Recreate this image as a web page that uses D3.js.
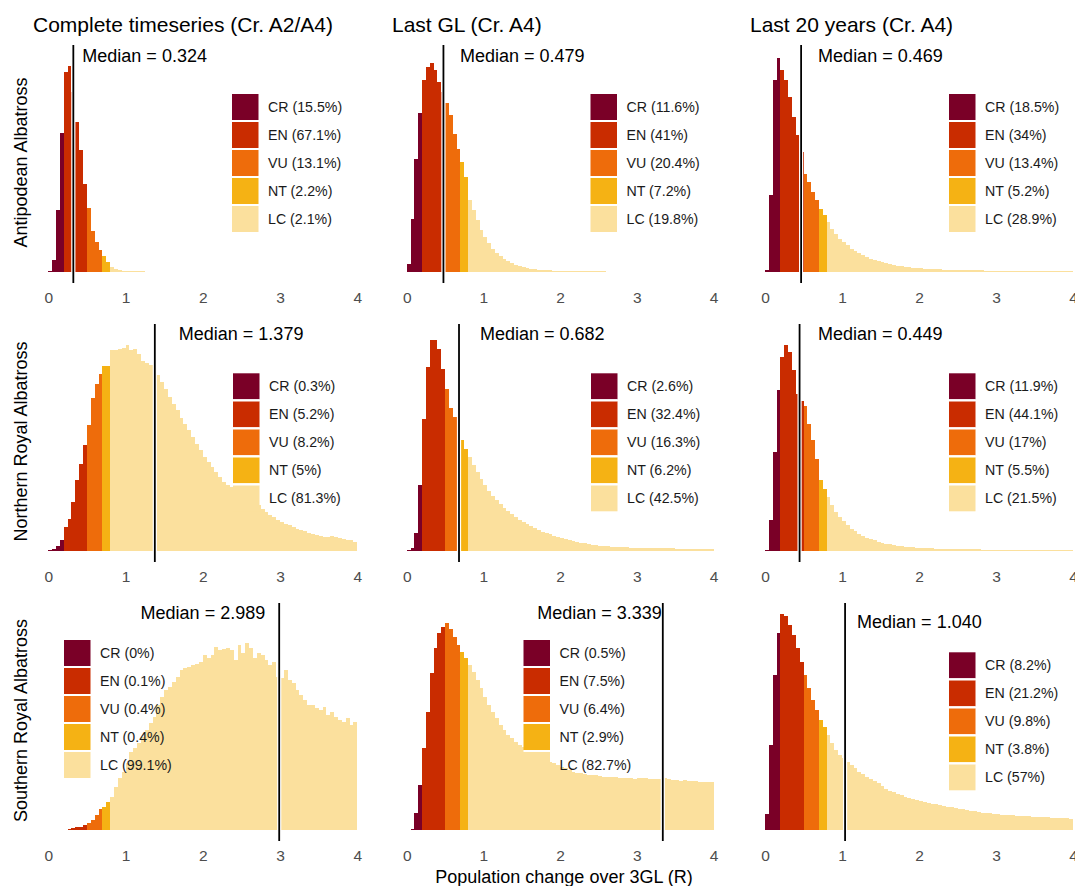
<!doctype html>
<html>
<head>
<meta charset="utf-8">
<script src="https://d3js.org/d3.v7.min.js"></script>
<style>
  body { margin: 0; background: #fff; }
  svg text { font-family: "Liberation Sans", Arial, sans-serif; }
</style>
</head>
<body>
<svg width="1075" height="886"></svg>
<script>
// ---- data ----
var species = ["Antipodean Albatross", "Northern Royal Albatross", "Southern Royal Albatross"];
var periods = ["Complete timeseries (Cr. A2/A4)", "Last GL (Cr. A4)", "Last 20 years (Cr. A4)"];
var categories = ["CR", "EN", "VU", "NT", "LC"];
var catBreaks = [0.2, 0.5, 0.7, 0.8];   // R thresholds between categories
var binWidth = 0.05;
var xTicks = [0, 1, 2, 3, 4];

var medians = [
  [0.324, 0.479, 0.469],
  [1.379, 0.682, 0.449],
  [2.989, 3.339, 1.040]
];

var catPercents = [
  [[15.5, 67.1, 13.1, 2.2, 2.1], [11.6, 41, 20.4, 7.2, 19.8], [18.5, 34, 13.4, 5.2, 28.9]],
  [[0.3, 5.2, 8.2, 5, 81.3], [2.6, 32.4, 16.3, 6.2, 42.5], [11.9, 44.1, 17, 5.5, 21.5]],
  [[0, 0.1, 0.4, 0.4, 99.1], [0.5, 7.5, 6.4, 2.9, 82.7], [8.2, 21.2, 9.8, 3.8, 57]]
];

// histogram counts (arbitrary units), one value per 0.05 bin starting at R = 0
var antipodeanComplete = [1, 12, 62, 139, 200, 206, 180, 150, 122, 88, 64, 41, 30, 22, 16, 10, 5, 3, 2, 1.5,
  1.2, 1, 0.8, 0.7, 0.6, 0.5];
var antipodeanLastGL = [8, 53, 113, 159, 192, 205, 209, 202, 190, 180, 169, 157, 138, 123, 110, 95, 72, 62, 52, 42,
  35, 29, 23, 19, 16, 13, 11, 9, 7, 6, 5, 4, 3.5, 3, 2.5, 2, 2, 1.7, 1.5, 1.3,
  1.2, 1.1, 1, 1, 0.9, 0.9, 0.8, 0.8, 0.7, 0.7, 0.6, 0.6, 0.5, 0.5, 0.5, 0.4];
var antipodeanLast20 = [2, 77, 192, 214, 202, 192, 175, 155, 137, 120, 98, 90, 80, 72, 63, 57, 50, 43, 38, 33,
  30, 27, 23, 21, 19, 17, 15, 13, 12, 11, 10, 9, 8, 7, 6.3, 5.7, 5, 4.7, 4.3, 4,
  3.7, 3.5, 3.3, 3.1, 2.9, 2.7, 2.5, 2.4, 2.3, 2.2, 2.1, 2, 1.9, 1.8, 1.7, 1.7, 1.6, 1.5, 1.5, 1.4,
  1.4, 1.3, 1.3, 1.2, 1.2, 1.2, 1.1, 1.1, 1.1, 1, 1, 1, 1, 0.9, 0.9, 0.9, 0.9, 0.8, 0.8, 0.8];
var northernComplete = [0.7, 2.3, 4.7, 11.3, 24, 32, 49, 71, 87, 106, 126, 153, 167, 177, 185, 185, 201, 201, 202, 203,
  206, 201, 202, 197, 190, 188, 186, 182, 176, 169, 162, 154, 147, 141, 133, 127, 121, 114, 107, 101,
  94, 89, 84, 79, 74, 69, 66, 64, 62, 61, 60, 57, 54, 51, 46, 42, 39, 36, 34, 31,
  29, 27, 26, 24, 22, 21, 20, 18, 17, 16, 15, 14, 14, 15, 14, 13, 12, 11, 11, 9];
var northernLastGL = [1.3, 3.3, 18, 66, 132, 184, 211, 211, 202, 182, 162, 143, 134, 121, 111, 102, 94, 86, 79, 72,
  66, 60, 55, 51, 47, 43, 40, 37, 34, 31, 29, 27, 25, 23, 21, 19, 18, 17, 15, 14,
  13, 12, 11, 10, 9, 8.3, 7.7, 7, 6.3, 5.7, 5.3, 5, 4.7, 4.5, 4.3, 4.1, 3.9, 3.7, 3.5, 3.4,
  3.3, 3.2, 3.1, 3, 2.9, 2.8, 2.7, 2.7, 2.6, 2.6, 2.5, 2.5, 2.4, 2.4, 2.3, 2.3, 2.2, 2.2, 2.1, 2.1];
var northernLast20 = [1.3, 31, 99, 161, 194, 206, 199, 181, 157, 150, 145, 127, 111, 92, 71, 62, 54, 46, 39, 34,
  30, 26, 22, 20, 17, 15, 13, 12, 11, 9, 8, 7, 6.7, 6, 5.3, 4.7, 4.3, 4, 3.7, 3.5,
  3.3, 3.1, 2.9, 2.7, 2.5, 2.4, 2.3, 2.2, 2.1, 2, 1.9, 1.8, 1.8, 1.7, 1.6, 1.6, 1.5, 1.5, 1.4, 1.4,
  1.3, 1.3, 1.3, 1.2, 1.2, 1.2, 1.1, 1.1, 1.1, 1, 1, 1, 1, 0.9, 0.9, 0.9, 0.9, 0.8, 0.8, 0.8];
var southernComplete = [0, 0, 0, 0, 0.3, 1, 2, 2.7, 3.3, 5, 6.7, 10, 15, 21, 23, 28, 33, 43, 52, 58,
  67, 78, 82, 87, 93, 100, 107, 113, 125, 133, 140, 143, 148, 153, 160, 162, 163, 165, 166, 168,
  175, 172, 175, 183, 180, 181, 182, 180, 170, 185, 177, 187, 182, 172, 177, 175, 170, 165, 168, 153,
  152, 160, 150, 147, 140, 135, 130, 125, 125, 122, 120, 123, 115, 118, 113, 110, 108, 112, 105, 108];
var southernLastGL = [0.3, 1, 17, 45, 82, 118, 157, 182, 197, 203, 207, 201, 193, 185, 178, 172, 165, 158, 150, 142,
  133, 125, 118, 112, 105, 100, 95, 92, 88, 85, 83, 80, 78, 76, 73, 72, 70, 68, 67, 65,
  63, 62, 60, 58, 57, 57, 56, 55, 55, 55, 54, 53, 53, 53, 53, 52, 52, 52, 52, 51,
  52, 52, 52, 51, 51, 51, 51, 52, 51, 50, 50, 49, 50, 49, 49, 49, 48, 48, 48, 48];
var southernLast20 = [16, 85, 155, 197, 216, 214, 205, 195, 182, 168, 155, 142, 130, 120, 110, 103, 95, 87, 80, 75,
  72, 68, 65, 62, 58, 56, 53, 51, 49, 47, 44, 41, 39, 38, 36, 35, 33, 32, 31, 30,
  29, 28, 27, 26, 26, 25, 24, 23, 23, 22, 21, 21, 20, 19, 19, 18, 17, 17, 17, 16,
  16, 15, 15, 15, 15, 14, 14, 14, 14, 13, 13, 13, 13, 13, 12, 12, 12, 12, 12, 11];

var histograms = [
  [antipodeanComplete, antipodeanLastGL, antipodeanLast20],
  [northernComplete, northernLastGL, northernLast20],
  [southernComplete, southernLastGL, southernLast20]
];

// ---- layout ----
var colors = ["#7a0027", "#c92c00", "#ee6c0b", "#f5b214", "#fbe09d"];
var colRange = [[48.3, 357.3], [406.7, 713.5], [765, 1073]];
var colLeft = [33, 392, 750];
var rowBase = [272, 551, 830];
var panelTop = 227, panelBottom = 11;
var yMaxUnits = 227;
var legendAt = [
  [[232, 94], [590.5, 94], [949, 94]],
  [[233, 373.3], [591, 373.3], [949, 373.3]],
  [[64, 640], [523.5, 640], [949, 652.3]]
];
var medLabel = [   // dx from the line, anchor, baseline y
  [[9, "start", 62], [16.6, "start", 62], [17, "start", 62]],
  [[24, "start", 340], [21, "start", 340], [18.4, "start", 340]],
  [[-14, "end", 619], [-1, "end", 619], [12, "start", 628]]
];

var svg = d3.select("svg");

function catOf(mid) {
  return catBreaks.filter(function(b) { return mid > b; }).length;
}

// column titles
periods.forEach(function(p, c) {
  svg.append("text")
    .attr("x", colLeft[c]).attr("y", 32)
    .style("font-size", "21px").style("fill", "#000")
    .text(p);
});

// row labels
species.forEach(function(s, r) {
  svg.append("text")
    .attr("text-anchor", "middle")
    .attr("transform", "translate(26.5," + (rowBase[r] - 109.5) + ")rotate(-90)")
    .style("font-size", "18px").style("fill", "#000")
    .text(s);
});

for (var r = 0; r < 3; r++) {
  for (var c = 0; c < 3; c++) {
    var x = d3.scaleLinear().domain([0, 4]).range(colRange[c]);
    var y = d3.scaleLinear().domain([0, yMaxUnits]).range([rowBase[r], rowBase[r] - panelTop]);
    var g = svg.append("g");
    var bins = histograms[r][c].map(function(v, i) {
      return { x0: i * binWidth, x1: (i + 1) * binWidth, v: v };
    }).filter(function(d) { return d.v > 0; });

    g.selectAll("rect.bar").data(bins).enter().append("rect")
      .attr("class", "bar")
      .attr("shape-rendering", "crispEdges")
      .attr("x", function(d) { return Math.round(x(d.x0)); })
      .attr("width", function(d) { return Math.round(x(d.x1)) - Math.round(x(d.x0)); })
      .attr("y", function(d) { return y(d.v); })
      .attr("height", function(d) { return y(0) - y(d.v); })
      .attr("fill", function(d) { return colors[catOf((d.x0 + d.x1) / 2)]; });

    // median line with white halo
    var mx = x(medians[r][c]);
    [["#fff", 4.2], ["#000", 1.8]].forEach(function(s) {
      g.append("line")
        .attr("x1", mx).attr("x2", mx)
        .attr("y1", rowBase[r] - panelTop).attr("y2", rowBase[r] + panelBottom)
        .attr("stroke", s[0]).attr("stroke-width", s[1]);
    });

    var ml = medLabel[r][c];
    g.append("text")
      .attr("x", mx + ml[0]).attr("y", ml[2])
      .attr("text-anchor", ml[1])
      .style("font-size", "18px").style("fill", "#000")
      .text("Median = " + medians[r][c].toFixed(3));

    // legend: keys separated by thin white gaps
    var la = legendAt[r][c];
    var leg = g.append("g").attr("transform", "translate(" + la[0] + "," + la[1] + ")");
    categories.forEach(function(cat, i) {
      leg.append("rect")
        .attr("x", 0).attr("y", i * 28)
        .attr("width", 26.5).attr("height", 26)
        .attr("fill", colors[i]);
      if (i > 0) {
        leg.append("rect")
          .attr("x", 0).attr("y", i * 28 - 2)
          .attr("width", 26.5).attr("height", 2)
          .attr("fill", "#fff");
      }
      leg.append("text")
        .attr("x", 36).attr("y", i * 28 + 18)
        .style("font-size", "14.2px").style("fill", "#1a1a1a")
        .text(cat + " (" + catPercents[r][c][i] + "%)");
    });

    // x axis
    var ax = svg.append("g")
      .attr("transform", "translate(0," + (rowBase[r] + 31) + ")")
      .call(d3.axisBottom(x).tickValues(xTicks).tickFormat(d3.format("d")).tickSize(0).tickPadding(0));
    ax.select(".domain").remove();
    ax.selectAll("text")
      .style("font-family", "'Liberation Sans', Arial, sans-serif")
      .style("font-size", "15.5px").style("fill", "#4d4d4d")
      .attr("dy", "0");
  }
}

svg.append("text")
  .attr("x", 564).attr("y", 883)
  .attr("text-anchor", "middle")
  .style("font-size", "18px").style("fill", "#000")
  .text("Population change over 3GL (R)");
</script>
</body>
</html>
